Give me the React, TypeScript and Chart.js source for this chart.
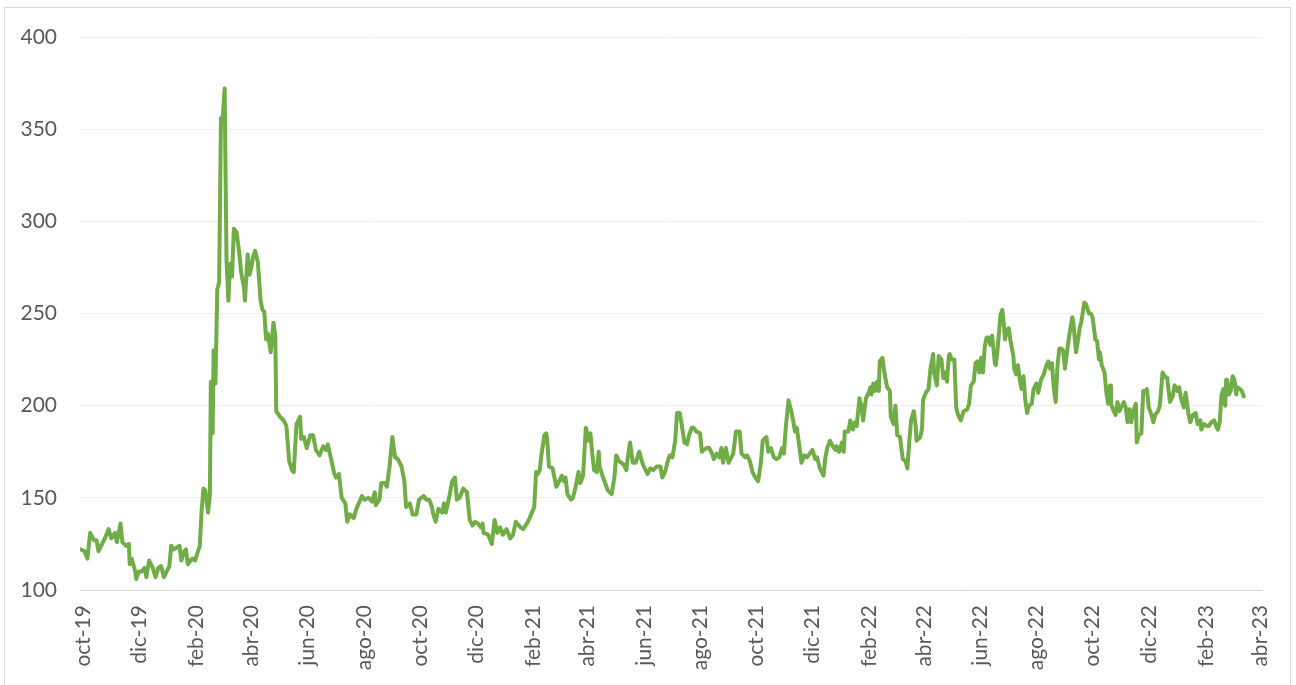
import React, { useEffect, useRef } from "react";
import { Chart, registerables } from "chart.js";

Chart.register(...registerables);

// Day offsets counted from 1 Oct 2019 (the date of the first axis label)
const START_DATE = Date.UTC(2019, 9, 1);

const days: number[] = [
  -2, 2, 5, 8, 12, 15, 17, 21, 24, 28, 31, 35, 37, 41, 43, 47, 50, 51, 53, 57, 58, 61, 64, 67, 69, 72, 76, 79, 82, 85, 88, 91, 94, 96, 99, 102, 105, 107, 110, 112, 114, 117, 119, 122, 125, 127, 129, 131, 133, 136, 138, 139, 141, 142, 144, 146, 148, 150, 152, 154, 156, 158, 160, 162, 164, 167, 170, 172, 175, 176, 179, 181, 183, 185, 187, 190, 193, 195, 197, 199, 201, 204, 207, 209, 210,
  214, 218, 221, 224, 227, 229, 232, 236, 237, 240, 243, 247, 250, 253, 257, 261, 264, 266, 270, 273, 275, 278, 281, 285, 287, 290, 294, 297, 303, 306, 310, 314, 317, 318, 322, 324, 328, 330, 333, 336, 339, 342, 346, 349, 351, 355, 358, 362, 365, 370, 373, 376, 379, 380, 383, 386, 390, 392, 394, 398, 401, 404, 406, 409, 413, 417,
  420, 423, 426, 429, 432, 434, 435, 440, 444, 447, 450, 453, 456, 460, 464, 467, 470, 475, 478, 482, 485, 490, 492, 494, 496, 498, 501, 503, 504, 506, 510, 514, 517, 520, 522, 524, 526, 530, 532, 535, 538, 540, 543, 546, 549, 551, 553, 555, 558, 560, 561, 564, 567, 570, 574, 577, 579, 582, 587, 590, 591, 594, 597, 600, 604, 608, 610, 613, 616, 619, 623,
  627, 629, 632, 635, 637, 640, 643, 645, 648, 650, 653, 656, 658, 661, 663, 666, 670, 672, 674, 677, 680, 683, 685, 688, 691, 693, 695, 698, 701, 703, 706, 709, 713, 715, 719, 721, 724, 727, 730, 733, 736, 738, 742, 744, 747, 750, 753, 756, 759, 761, 763, 766, 769, 771, 773, 775, 778, 780, 783, 786, 789, 792, 795, 797, 800, 804, 806, 808, 811, 814, 817, 818, 821, 824, 826, 827, 831,
  833, 836, 838, 840, 843, 845, 847, 850, 853, 855, 856, 858, 860, 862, 864, 865, 868, 870, 873, 876, 877, 880, 882, 884, 887, 890, 893, 895, 897, 899, 902, 904, 905, 909, 911, 912, 915, 918, 920, 923, 924, 927, 929, 932, 934, 936, 938, 940, 941, 943, 946, 948, 950, 953, 956, 960, 962, 964, 967, 969, 971, 973, 975, 977, 979, 981, 983, 985, 987, 990, 991, 993, 996, 998, 999, 1001, 1003, 1005, 1007, 1010, 1011, 1013, 1015, 1017, 1019, 1021, 1023, 1025, 1027, 1030, 1032, 1035, 1037, 1040, 1043, 1046, 1048, 1050, 1052, 1054, 1056, 1058, 1060,
  1062, 1064, 1066, 1069, 1071, 1074, 1075, 1078, 1080, 1082, 1084, 1087, 1089, 1092, 1094, 1096, 1099, 1101, 1103, 1104, 1106, 1109, 1111, 1113, 1115, 1116, 1119, 1121, 1123, 1125, 1128, 1130, 1132, 1134, 1136, 1138, 1140, 1143, 1144, 1146, 1149, 1151, 1154, 1155, 1157, 1160, 1162, 1164, 1167, 1169, 1172, 1174, 1177, 1180, 1183, 1185, 1188, 1190, 1192, 1195, 1197, 1200, 1202, 1205, 1208, 1210, 1213, 1214, 1217, 1220, 1222, 1225, 1228, 1230, 1232, 1234, 1236, 1238, 1240, 1241, 1242, 1244, 1246, 1248, 1250, 1252, 1253, 1256, 1258, 1260,
];

const values: number[] = [
  122, 121, 117, 131, 127, 127, 121, 125, 128, 133, 128, 131, 126, 136, 126, 124, 125, 114, 117, 110, 106, 110, 110, 112, 107, 116, 112, 107, 112, 113, 107, 110, 113, 124, 122, 123, 124, 116, 121, 122, 114, 116, 117, 116, 121, 124, 143, 155, 154, 142, 152, 213, 185, 230, 212, 263, 267, 356, 357, 372, 279, 257, 277, 270, 296, 294, 282, 272, 264, 257, 282, 271, 275, 281, 284, 278, 257, 252, 251, 236, 239, 229, 245, 238, 197,
  194, 192, 189, 170, 165, 164, 190, 194, 182, 183, 177, 184, 184, 176, 173, 178, 176, 179, 170, 163, 161, 163, 150, 147, 137, 141, 139, 144, 151, 149, 150, 148, 153, 146, 149, 158, 158, 156, 167, 183, 172, 171, 167, 159, 145, 147, 141, 141, 149, 151, 149, 149, 145, 142, 137, 144, 142, 147, 142, 151, 159, 161, 149, 150, 155, 153,
  138, 135, 137, 136, 134, 136, 131, 130, 125, 138, 131, 134, 130, 133, 128, 130, 137, 134, 133, 136, 139, 145, 164, 163, 165, 174, 184, 185, 182, 167, 166, 156, 159, 162, 159, 161, 152, 149, 150, 156, 164, 158, 162, 188, 181, 185, 174, 165, 164, 175, 167, 162, 158, 154, 152, 161, 173, 170, 168, 165, 170, 180, 169, 169, 175, 168, 166, 163, 166, 165, 167,
  167, 161, 164, 170, 173, 172, 181, 196, 196, 190, 180, 179, 184, 188, 188, 186, 185, 175, 176, 177, 177, 174, 171, 174, 172, 177, 169, 177, 169, 171, 174, 186, 186, 174, 172, 173, 170, 164, 161, 159, 169, 181, 183, 175, 177, 172, 171, 172, 177, 174, 188, 203, 197, 192, 186, 188, 177, 169, 173, 172, 174, 176, 171, 172, 166, 162, 172, 177, 181, 178, 176, 178, 175, 180, 175, 186, 186,
  192, 187, 191, 189, 204, 200, 192, 204, 207, 210, 206, 212, 208, 213, 208, 224, 226, 218, 210, 208, 194, 190, 200, 184, 183, 171, 170, 166, 180, 192, 197, 189, 181, 183, 188, 203, 207, 209, 220, 228, 218, 211, 227, 225, 215, 218, 213, 227, 228, 225, 225, 199, 195, 192, 197, 198, 201, 211, 213, 223, 224, 218, 226, 218, 232, 237, 237, 233, 238, 223, 222, 231, 249, 252, 248, 236, 241, 242, 235, 227, 220, 217, 222, 214, 209, 216, 203, 196, 200, 201, 209, 212, 207, 214, 217, 222, 224, 220, 223, 209, 202, 222, 231,
  231, 230, 220, 232, 239, 248, 246, 229, 235, 242, 246, 256, 255, 250, 250, 248, 236, 235, 225, 229, 222, 218, 207, 201, 211, 201, 197, 195, 202, 197, 200, 202, 199, 191, 198, 191, 197, 201, 180, 184, 185, 208, 208, 209, 199, 195, 191, 195, 197, 200, 218, 216, 215, 202, 205, 211, 208, 210, 204, 199, 207, 196, 191, 195, 196, 190, 192, 187, 190, 189, 189, 191, 192, 189, 187, 191, 206, 209, 200, 214, 214, 206, 208, 216, 214, 206, 210, 209, 208, 205,
];

const tickLabels: string[] = [
  "oct-19", "dic-19", "feb-20", "abr-20", "jun-20", "ago-20", "oct-20", "dic-20",
  "feb-21", "abr-21", "jun-21", "ago-21", "oct-21", "dic-21", "feb-22", "abr-22",
  "jun-22", "ago-22", "oct-22", "dic-22", "feb-23", "abr-23",
];

const yTicks: number[] = [100, 150, 200, 250, 300, 350, 400];

const tickDays: number[] = tickLabels.map((_, i) =>
  Math.round((Date.UTC(2019, 9 + 2 * i, 1) - START_DATE) / 86400000)
);

export default function App() {
  const canvasRef = useRef<HTMLCanvasElement | null>(null);

  useEffect(() => {
    const canvas = canvasRef.current;
    if (!canvas) return;
    const points = days.map((d, i) => ({ x: d, y: values[i] }));
    const labelFor = new Map<number, string>();
    tickDays.forEach((d, i) => labelFor.set(d, tickLabels[i]));
    const font = { family: "Lato, 'Open Sans', sans-serif", size: 21 };

    const chart = new Chart(canvas, {
      type: "line",
      data: {
        datasets: [
          {
            data: points,
            borderColor: "#70ad47",
            backgroundColor: "#70ad47",
            borderWidth: 4,
            pointRadius: 0,
            tension: 0,
            borderJoinStyle: "round",
            borderCapStyle: "round",
          },
        ],
      },
      options: {
        animation: false,
        responsive: false,
        devicePixelRatio: 1,
        layout: { padding: { top: 37, right: 33, bottom: 0, left: 0 } },
        plugins: { legend: { display: false }, tooltip: { enabled: false } },
        scales: {
          x: {
            type: "linear",
            min: -3,
            max: 1281,
            afterBuildTicks: (scale: any) => {
              scale.ticks = tickDays.map((v) => ({ value: v }));
            },
            afterFit: (scale: any) => {
              scale.height = 95;
              scale.paddingLeft = 0;
              scale.paddingRight = 0;
            },
            grid: { display: false, drawTicks: false },
            border: { display: false },
            ticks: {
              autoSkip: false,
              minRotation: 90,
              maxRotation: 90,
              padding: 15,
              color: "#595959",
              font,
              callback: (v: any) => labelFor.get(Number(v)) ?? "",
            },
          },
          y: {
            min: 100,
            max: 400,
            afterBuildTicks: (scale: any) => {
              scale.ticks = yTicks.map((v) => ({ value: v }));
            },
            afterFit: (scale: any) => {
              scale.width = 80;
              scale.paddingTop = 0;
              scale.paddingBottom = 0;
            },
            grid: {
              drawTicks: false,
              lineWidth: 1,
              color: (ctx: any) => (ctx.tick && ctx.tick.value === 100 ? "#d9d9d9" : "#efefef"),
            },
            border: { display: false },
            ticks: {
              padding: 23,
              color: "#595959",
              font,
            },
          },
        },
      },
    });
    return () => chart.destroy();
  }, []);

  return (
    <div style={{ position: "absolute", left: 0, top: 0, width: 1296, height: 685, overflow: "hidden", background: "#ffffff" }}>
      <div
        style={{
          position: "absolute",
          left: 4,
          top: 7,
          width: 1287,
          height: 700,
          border: "1px solid #d9d9d9",
          boxSizing: "border-box",
        }}
      />
      <canvas ref={canvasRef} width={1296} height={685} style={{ position: "absolute", left: 0, top: 0 }} />
    </div>
  );
}
